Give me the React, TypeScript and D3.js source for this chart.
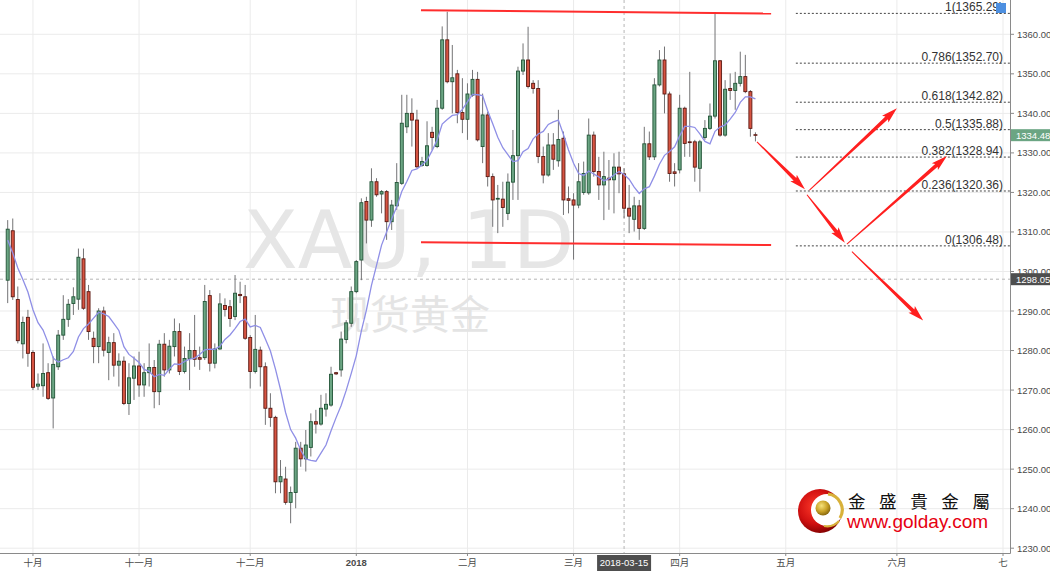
import React from 'react';
import * as d3 from 'd3';

const W = 1050;
const H = 571;
const PLOT_R = 1010;
const PLOT_B = 553;

// ---- OHLC data (daily bars, index 0 = first visible bar) ----
const opens = [
  1297.8, 1310.3, 1292.9, 1281.7, 1288.4, 1279.5, 1271.0, 1271.1, 1274.4, 1268.0,
  1275.9, 1283.9, 1287.9, 1291.9, 1293.0, 1303.2, 1294.9, 1283.1, 1281.0, 1290.0,
  1279.5, 1282.0, 1276.3, 1277.3, 1266.6, 1273.0, 1276.1, 1271.3, 1274.4, 1275.7,
  1269.6, 1281.6, 1275.1, 1281.0, 1284.8, 1274.7, 1278.0, 1280.0, 1278.2, 1278.2,
  1293.9, 1276.8, 1280.4, 1291.4, 1291.1, 1288.6, 1294.2, 1293.6, 1283.3, 1274.7,
  1280.1, 1275.9, 1265.4, 1263.1, 1246.8, 1247.5, 1241.6, 1244.1, 1255.3, 1252.6,
  1255.5, 1262.0, 1261.4, 1265.2, 1266.2, 1274.4, 1275.1, 1282.8, 1286.9, 1294.9,
  1302.9, 1317.7, 1313.0, 1322.7, 1319.6, 1320.2, 1312.6, 1316.6, 1322.3, 1336.6,
  1340.0, 1338.3, 1326.8, 1326.8, 1335.2, 1331.6, 1341.3, 1358.6, 1348.0, 1350.0,
  1340.2, 1338.5, 1344.6, 1348.6, 1331.6, 1339.6, 1324.0, 1318.3, 1318.3, 1314.7,
  1322.6, 1329.3, 1350.7, 1353.5, 1347.6, 1346.3, 1329.1, 1324.4, 1332.0, 1328.0,
  1333.7, 1318.4, 1318.1, 1316.8, 1320.0, 1319.9, 1334.5, 1325.3, 1321.9, 1323.6,
  1323.2, 1326.4, 1324.7, 1316.0, 1313.2, 1316.6, 1310.9, 1332.3, 1329.0, 1347.2,
  1353.5, 1344.9, 1325.2, 1325.7, 1341.3, 1332.8, 1332.8, 1326.1, 1333.9, 1336.2,
  1339.3, 1353.3, 1334.5, 1346.3, 1345.8, 1347.6, 1349.3, 1345.5, 1334.6,
];
const highs = [
  1313.0, 1313.4, 1296.2, 1288.6, 1290.3, 1280.1, 1274.2, 1281.8, 1276.8, 1278.5,
  1285.2, 1294.0, 1293.0, 1296.0, 1305.8, 1305.8, 1296.6, 1284.8, 1290.7, 1291.1,
  1283.5, 1284.4, 1279.3, 1278.5, 1276.8, 1278.5, 1279.7, 1276.8, 1281.8, 1277.6,
  1282.7, 1284.4, 1282.7, 1288.1, 1286.9, 1281.0, 1284.4, 1289.0, 1281.0, 1296.6,
  1295.3, 1281.8, 1294.5, 1293.2, 1292.8, 1299.1, 1297.4, 1296.6, 1283.9, 1289.0,
  1281.0, 1277.0, 1269.2, 1263.5, 1252.3, 1250.6, 1245.6, 1256.9, 1256.9, 1259.9,
  1264.1, 1265.0, 1268.8, 1269.2, 1275.9, 1274.6, 1284.8, 1287.7, 1296.2, 1302.9,
  1318.5, 1318.9, 1326.1, 1323.6, 1320.6, 1320.6, 1318.1, 1327.4, 1344.7, 1344.7,
  1343.8, 1340.9, 1329.0, 1338.0, 1336.6, 1343.4, 1362.0, 1365.7, 1357.3, 1351.0,
  1348.9, 1347.6, 1351.0, 1350.5, 1345.0, 1340.4, 1324.8, 1321.9, 1322.7, 1324.8,
  1335.8, 1351.8, 1357.7, 1361.9, 1348.4, 1348.4, 1331.6, 1335.0, 1335.0, 1340.9,
  1335.4, 1321.5, 1319.8, 1327.4, 1327.8, 1338.7, 1335.4, 1329.0, 1330.3, 1328.2,
  1329.9, 1330.3, 1326.1, 1321.9, 1318.9, 1318.1, 1336.6, 1335.4, 1348.9, 1356.0,
  1356.9, 1345.5, 1327.4, 1344.7, 1341.7, 1350.5, 1333.3, 1333.3, 1338.3, 1342.5,
  1365.3, 1353.5, 1348.4, 1350.1, 1350.5, 1355.6, 1354.8, 1345.9, 1335.2,
];
const lows = [
  1292.0, 1292.8, 1281.8, 1278.0, 1275.9, 1270.0, 1270.0, 1268.3, 1267.5, 1260.3,
  1275.1, 1282.7, 1286.0, 1289.0, 1290.3, 1290.3, 1282.7, 1276.8, 1276.8, 1278.5,
  1272.5, 1273.4, 1270.9, 1266.2, 1263.7, 1267.5, 1268.3, 1268.3, 1270.9, 1265.4,
  1266.2, 1273.4, 1274.2, 1278.5, 1273.8, 1274.2, 1270.0, 1275.9, 1275.1, 1277.6,
  1274.7, 1275.5, 1280.2, 1288.6, 1286.0, 1287.7, 1292.0, 1282.7, 1270.4, 1274.2,
  1270.9, 1261.2, 1260.7, 1243.9, 1243.9, 1241.0, 1236.3, 1240.1, 1250.6, 1249.4,
  1253.2, 1259.0, 1261.0, 1263.3, 1265.8, 1273.8, 1273.4, 1281.8, 1286.0, 1294.5,
  1297.8, 1307.1, 1311.3, 1318.9, 1314.7, 1308.0, 1310.5, 1315.6, 1321.9, 1335.0,
  1331.6, 1326.1, 1326.5, 1326.5, 1330.7, 1331.2, 1340.9, 1347.6, 1340.0, 1337.5,
  1335.0, 1333.3, 1344.2, 1332.9, 1327.4, 1321.5, 1311.3, 1309.7, 1311.3, 1313.0,
  1318.1, 1318.1, 1349.7, 1346.3, 1345.0, 1327.4, 1322.3, 1324.0, 1325.7, 1326.5,
  1314.3, 1314.7, 1303.0, 1316.0, 1319.4, 1319.4, 1324.0, 1318.1, 1313.0, 1315.6,
  1314.7, 1319.8, 1313.5, 1309.7, 1310.1, 1308.0, 1310.5, 1328.2, 1328.2, 1346.8,
  1340.0, 1322.7, 1321.5, 1324.8, 1329.0, 1329.0, 1322.7, 1320.2, 1333.3, 1335.8,
  1338.7, 1334.1, 1334.1, 1343.4, 1340.9, 1346.8, 1345.1, 1334.1, 1332.9,
];
const closes = [
  1310.7, 1293.6, 1282.5, 1287.1, 1279.3, 1270.7, 1271.5, 1274.2, 1267.9, 1276.5,
  1283.9, 1287.9, 1291.7, 1293.6, 1303.6, 1290.7, 1284.8, 1281.0, 1290.0, 1280.1,
  1282.0, 1276.3, 1277.3, 1266.6, 1273.1, 1276.1, 1271.3, 1274.4, 1275.7, 1269.6,
  1281.6, 1275.1, 1281.1, 1284.8, 1274.7, 1278.0, 1280.0, 1277.8, 1277.8, 1292.4,
  1276.8, 1280.4, 1291.8, 1290.4, 1288.1, 1294.5, 1293.9, 1283.1, 1274.7, 1280.3,
  1275.9, 1265.4, 1263.1, 1246.8, 1248.1, 1241.6, 1244.1, 1255.3, 1252.6, 1256.1,
  1262.0, 1261.4, 1265.4, 1266.4, 1274.0, 1274.1, 1282.9, 1287.0, 1294.9, 1302.5,
  1317.4, 1313.0, 1322.7, 1319.4, 1320.2, 1312.6, 1316.8, 1322.5, 1337.5, 1340.0,
  1338.3, 1326.5, 1327.8, 1331.8, 1333.9, 1341.3, 1358.6, 1348.0, 1349.0, 1340.2,
  1338.5, 1344.9, 1348.6, 1333.3, 1339.6, 1324.0, 1318.1, 1318.5, 1316.2, 1322.6,
  1329.3, 1350.7, 1353.5, 1346.8, 1346.3, 1329.1, 1324.4, 1332.0, 1328.4, 1333.4,
  1318.1, 1318.0, 1316.8, 1322.7, 1324.8, 1334.5, 1325.3, 1321.9, 1324.0, 1323.2,
  1326.4, 1324.7, 1316.0, 1314.0, 1316.6, 1310.9, 1332.3, 1329.0, 1347.2, 1353.5,
  1344.9, 1324.8, 1324.8, 1341.3, 1332.4, 1332.6, 1326.4, 1332.8, 1336.2, 1339.3,
  1353.3, 1334.5, 1346.1, 1345.8, 1347.6, 1349.3, 1345.5, 1336.2, 1334.5,
];
// closes of the bars just before the visible window (feed the moving average)
const priorCloses = [1323, 1317, 1313, 1308, 1311, 1301, 1291, 1297];
const MA_PERIOD = 9;

// ---- axes ----
const priceTicks = [1230, 1240, 1250, 1260, 1270, 1280, 1290, 1300, 1310, 1320, 1330, 1340, 1350, 1360];
const timeTickLabels = ['十月', '十一月', '十二月', '2018', '二月', '三月', '四月', '五月', '六月', '七'];
const timeTickIndex = [5, 26, 48, 69, 91, 112, 133, 154, 176, 197];
const boldTickLabels = ['2018'];

// crosshair
const crossIndex = 122;
const crossDateLabel = '2018-03-15';
const crossPrice = 1298.05;
const lastPrice = 1334.48;

// ---- fibonacci retracement ----
const fibPrices = [1365.29, 1352.70, 1342.82, 1335.88, 1328.94, 1320.36, 1306.48];
const fibLabels = ['1(1365.29)', '0.786(1352.70)', '0.618(1342.82)', '0.5(1335.88)', '0.382(1328.94)', '0.236(1320.36)', '0(1306.48)'];
const fibStartIndex = 156;

// ---- drawn annotations: [index, price] pairs ----
const channelTop = [[81.8, 1366.07], [151.1, 1365.26]];
const channelBottom = [[81.8, 1307.38], [151.1, 1306.70]];
const arrows = [
  [[148.3, 1332.8], [157.8, 1320.8]],
  [[158.7, 1320.6], [176.0, 1341.3]],
  [[158.2, 1319.4], [165.7, 1307.3]],
  [[166.1, 1306.9], [185.9, 1329.2]],
  [[167.1, 1305.0], [181.2, 1287.6]],
];

const UP = '#6ba583';
const DOWN = '#d75442';
const UP_BORDER = '#225437';
const DOWN_BORDER = '#5b1a13';
const WICK = '#737375';
const GRID = '#ebebeb';
const AXIS_TEXT = '#4a4a4a';
const FONT = '"Liberation Sans", Arial, "Noto Sans CJK SC", sans-serif';

function arrowPoints(x0: number, y0: number, x1: number, y1: number) {
  const dx = x1 - x0, dy = y1 - y0;
  const L = Math.hypot(dx, dy);
  const ux = dx / L, uy = dy / L;
  const nx = -uy, ny = ux;
  const hl = 16, hw = 4.6, w0 = 0.5, w1 = 1.9;
  const bx = x1 - ux * hl, by = y1 - uy * hl;
  const pts = [
    [x0 + nx * w0, y0 + ny * w0],
    [bx + ux * 2 + nx * w1, by + uy * 2 + ny * w1],
    [bx + nx * hw, by + ny * hw],
    [x1, y1],
    [bx - nx * hw, by - ny * hw],
    [bx + ux * 2 - nx * w1, by + uy * 2 - ny * w1],
    [x0 - nx * w0, y0 - ny * w0],
  ];
  return pts.map((p) => p[0].toFixed(2) + ',' + p[1].toFixed(2)).join(' ');
}

export default function App() {
  const x = d3.scaleLinear().domain([0, 197]).range([7.7, 1003]);
  const y = d3.scaleLinear().domain([1230, 1360]).range([548.2, 34.3]);

  const all = priorCloses.concat(closes);
  const ma = closes.map((_, i) => {
    const j = i + priorCloses.length;
    return d3.mean(all.slice(j - MA_PERIOD + 1, j + 1)) as number;
  });
  const maPath = d3.line<number>().x((_, i) => x(i)).y((v) => y(v))(ma) || '';

  const bodyW = 3;

  return (
    <svg width={W} height={H} style={{ display: 'block' }} xmlns="http://www.w3.org/2000/svg">
      <style>{`body{margin:0;}`}</style>
      <defs>
        <clipPath id="plot">
          <rect x={0} y={0} width={PLOT_R} height={PLOT_B} />
        </clipPath>
        <radialGradient id="redBall" cx="40%" cy="40%" r="65%">
          <stop offset="0%" stopColor="#ff3a2a" />
          <stop offset="60%" stopColor="#d01010" />
          <stop offset="100%" stopColor="#7a0000" />
        </radialGradient>
        <radialGradient id="goldBall" cx="40%" cy="35%" r="65%">
          <stop offset="0%" stopColor="#f6e27a" />
          <stop offset="60%" stopColor="#c9a227" />
          <stop offset="100%" stopColor="#8a6a10" />
        </radialGradient>
      </defs>
      <rect x={0} y={0} width={W} height={H} fill="#ffffff" />

      <g clipPath="url(#plot)">
        {/* grid */}
        {priceTicks.map((p) => (
          <line key={'hg' + p} x1={0} x2={PLOT_R} y1={y(p)} y2={y(p)} stroke={GRID} strokeWidth={1} />
        ))}
        {timeTickIndex.map((t) => (
          <line key={'vg' + t} x1={x(t)} x2={x(t)} y1={0} y2={PLOT_B} stroke={GRID} strokeWidth={1} />
        ))}

        {/* watermark */}
        <text x={243} y={268} fontFamily='"DejaVu Sans", sans-serif' fontSize={80} fill="#e6e6e6">XAU, 1D</text>
        <text x={330} y={329} fontFamily='"Noto Sans CJK SC", sans-serif' fontSize={40} fill="#e4e4e4">现货黄金</text>

        {/* crosshair */}
        <line x1={x(crossIndex)} x2={x(crossIndex)} y1={0} y2={PLOT_B} stroke="#b5b5b5" strokeWidth={1} strokeDasharray="3,3" />
        <line x1={0} x2={PLOT_R} y1={y(crossPrice)} y2={y(crossPrice)} stroke="#b5b5b5" strokeWidth={1} strokeDasharray="3,3" />

        {/* candles */}
        {closes.map((c, i) => {
          const o = opens[i];
          const up = c >= o;
          const cx = x(i);
          const top = y(Math.max(o, c));
          const bot = y(Math.min(o, c));
          return (
            <g key={'c' + i}>
              <line x1={cx} x2={cx} y1={y(highs[i])} y2={y(lows[i])} stroke={WICK} strokeWidth={1} />
              <rect
                x={cx - bodyW / 2}
                y={top}
                width={bodyW}
                height={Math.max(bot - top, 0.6)}
                fill={up ? UP : DOWN}
                stroke={up ? UP_BORDER : DOWN_BORDER}
                strokeWidth={0.9}
              />
            </g>
          );
        })}

        {/* moving average */}
        <path d={maPath} fill="none" stroke="#8f8fe6" strokeWidth={1.3} />

        {/* channel lines */}
        {[channelTop, channelBottom].map((seg, k) => (
          <line key={'ch' + k} x1={x(seg[0][0])} y1={y(seg[0][1])} x2={x(seg[1][0])} y2={y(seg[1][1])} stroke="#ff2d2d" strokeWidth={2} />
        ))}

        {/* fibonacci */}
        {fibPrices.map((p, k) => (
          <g key={'fib' + k}>
            <line x1={x(fibStartIndex)} x2={PLOT_R} y1={y(p)} y2={y(p)} stroke="#444" strokeWidth={1} strokeDasharray="2,2" />
            <text x={1003} y={y(p) - 2} textAnchor="end" fontFamily={FONT} fontSize={12} fill="#333">{fibLabels[k]}</text>
          </g>
        ))}
        <rect x={996} y={3} width={10} height={10} fill="#4d8fe0" />

        {/* arrows */}
        {arrows.map((a, k) => (
          <polygon key={'ar' + k} points={arrowPoints(x(a[0][0]), y(a[0][1]), x(a[1][0]), y(a[1][1]))} fill="#ff1f1f" />
        ))}

        {/* logo */}
        <g>
          <circle cx={820} cy={511} r={22} fill="url(#redBall)" />
          <circle cx={827} cy={510} r={16} fill="#ffffff" />
          <path d="M 828 494 A 16 16 0 0 1 840 518" fill="none" stroke="#d8b13a" strokeWidth={3.2} />
          <path d="M 839 521 A 16 16 0 0 1 824 526" fill="none" stroke="#d8b13a" strokeWidth={2.2} />
          <circle cx={823} cy={508} r={7.5} fill="url(#goldBall)" />
          <text x={848} y={507.5} fontFamily='"Noto Sans CJK TC", "Noto Sans CJK SC", sans-serif' fontSize={17.5} fill="#111" letterSpacing={13.6}>金盛貴金屬</text>
          <text x={847} y={528} fontFamily={FONT} fontSize={19} fill="#e60012">www.golday.com</text>
        </g>
      </g>

      {/* right axis */}
      <line x1={PLOT_R + 0.5} x2={PLOT_R + 0.5} y1={0} y2={PLOT_B + 0.5} stroke="#8a8a8a" strokeWidth={1} />
      {priceTicks.map((p) => (
        <g key={'yt' + p}>
          <line x1={PLOT_R} x2={PLOT_R + 4} y1={y(p)} y2={y(p)} stroke="#8a8a8a" strokeWidth={1} />
          <text x={1017} y={y(p)} dominantBaseline="central" fontFamily={FONT} fontSize={9.5} fill={AXIS_TEXT}>{p.toFixed(2)}</text>
        </g>
      ))}
      {/* last price label */}
      <rect x={PLOT_R + 1} y={y(lastPrice) - 6} width={W - PLOT_R} height={12} fill={UP} />
      <text x={1016} y={y(lastPrice)} dominantBaseline="central" fontFamily={FONT} fontSize={9.5} fill="#ffffff">{lastPrice.toFixed(2)}</text>
      {/* crosshair price label */}
      <rect x={PLOT_R + 1} y={y(crossPrice) - 6} width={W - PLOT_R} height={12} fill="#4e4e4e" />
      <text x={1016} y={y(crossPrice)} dominantBaseline="central" fontFamily={FONT} fontSize={9.5} fill="#ffffff">{crossPrice.toFixed(2)}</text>

      {/* bottom axis */}
      <line x1={0} x2={PLOT_R + 0.5} y1={PLOT_B + 0.5} y2={PLOT_B + 0.5} stroke="#8a8a8a" strokeWidth={1} />
      {timeTickIndex.map((t, k) => (
        <g key={'xt' + t}>
          <line x1={x(t)} x2={x(t)} y1={PLOT_B} y2={PLOT_B + 3} stroke="#8a8a8a" strokeWidth={1} />
          <text
            x={x(t)}
            y={566}
            textAnchor="middle"
            fontFamily={FONT}
            fontSize={9.5}
            fontWeight={boldTickLabels.includes(timeTickLabels[k]) ? 'bold' : 'normal'}
            fill={AXIS_TEXT}
          >
            {timeTickLabels[k]}
          </text>
        </g>
      ))}
      <rect x={x(crossIndex) - 27} y={555} width={54} height={16} fill="#4e4e4e" />
      <text x={x(crossIndex)} y={566} textAnchor="middle" fontFamily={FONT} fontSize={9.5} fill="#ffffff">{crossDateLabel}</text>
    </svg>
  );
}
